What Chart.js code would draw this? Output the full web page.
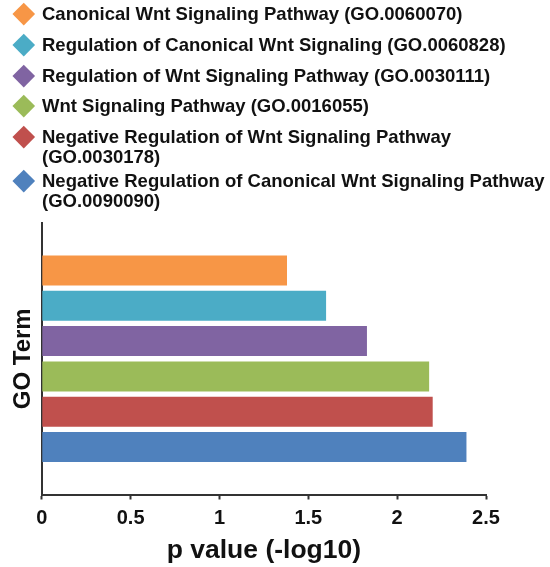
<!DOCTYPE html>
<html>
<head>
<meta charset="utf-8">
<script src="https://cdn.jsdelivr.net/npm/chart.js@4.4.1/dist/chart.umd.min.js"></script>
<style>
  body { margin: 0; background: #fff; }
  #wrap { position: relative; width: 550px; height: 567px; }
  #legenda {
    position: absolute; left: 0; top: 0; width: 550px;
    font-family: "Liberation Sans", Arial, sans-serif;
    font-weight: bold; font-size: 18.5px; line-height: 20px; color: #111;
  }
  .item { position: relative; padding-left: 42px; }
  .item .dia {
    position: absolute; left: 16px; top: 2px;
    width: 15.5px; height: 15.5px; transform: rotate(45deg);
  }
  .item:nth-child(1) { margin-top: 4px; }
  .item:nth-child(2) { margin-top: 11px; }
  .item:nth-child(3) { margin-top: 11px; }
  .item:nth-child(4) { margin-top: 10px; }
  .item:nth-child(5) { margin-top: 11px; }
  .item:nth-child(6) { margin-top: 4px; }
</style>
</head>
<body>
<div id="wrap">
  <canvas id="graficoGO" width="550" height="567"></canvas>
  <div id="legenda"></div>
</div>
<script>
// termos GO (de cima para baixo)
const termos = [
  "Canonical Wnt Signaling Pathway",
  "Regulation of Canonical Wnt Signaling",
  "Regulation of Wnt Signaling Pathway",
  "Wnt Signaling Pathway",
  "Negative Regulation of Wnt Signaling Pathway",
  "Negative Regulation of Canonical Wnt Signaling Pathway"
];
const goIds = ["GO.0060070", "GO.0060828", "GO.0030111", "GO.0016055", "GO.0030178", "GO.0090090"];

// p value (-log10)
const pValores = [1.38, 1.60, 1.83, 2.18, 2.20, 2.39];

const xTicks = [0, 0.5, 1, 1.5, 2, 2.5];
const xTickLabels = ["0", "0.5", "1", "1.5", "2", "2.5"];

const cores = ["#F79646", "#4BACC6", "#8064A2", "#9BBB59", "#C0504D", "#4F81BD"];

const fonte = "'Liberation Sans', Arial, sans-serif";
const corEixo = "#333";

// legenda em HTML (os textos longos quebram linha como no original)
const legenda = document.getElementById("legenda");
termos.forEach(function (t, i) {
  const div = document.createElement("div");
  div.className = "item";
  const d = document.createElement("span");
  d.className = "dia";
  d.style.background = cores[i];
  div.appendChild(d);
  div.appendChild(document.createTextNode(t + " (" + goIds[i] + ")"));
  legenda.appendChild(div);
});

const ctx = document.getElementById("graficoGO");

new Chart(ctx, {
  type: "bar",
  data: {
    labels: ["GO Term"],
    datasets: termos.map(function (t, i) {
      return {
        label: t + " (" + goIds[i] + ")",
        data: [pValores[i]],
        backgroundColor: cores[i],
        borderWidth: 0,
        categoryPercentage: 0.78,
        barPercentage: 0.85
      };
    })
  },
  options: {
    indexAxis: "y",
    responsive: false,
    animation: false,
    layout: { padding: { top: 223, left: 5, right: 64, bottom: 0 } },
    plugins: {
      legend: { display: false },
      tooltip: { enabled: false }
    },
    scales: {
      x: {
        min: 0,
        max: 2.5,
        afterBuildTicks: function (scale) {
          scale.ticks = xTicks.map(function (v) { return { value: v }; });
        },
        ticks: {
          color: "#111",
          padding: 7,
          font: { family: fonte, size: 20, weight: "bold" },
          callback: function (v) {
            const i = xTicks.indexOf(v);
            return i >= 0 ? xTickLabels[i] : "";
          }
        },
        grid: {
          drawOnChartArea: false,
          drawTicks: true,
          tickLength: 5,
          tickWidth: 2,
          tickColor: corEixo
        },
        border: { display: true, color: corEixo, width: 2 },
        title: {
          display: true,
          text: "p value (-log10)",
          color: "#111",
          padding: { top: 0, bottom: 3 },
          font: { family: fonte, size: 26.5, weight: "bold", lineHeight: 1 }
        }
      },
      y: {
        ticks: { display: false },
        grid: { drawOnChartArea: false, drawTicks: false },
        border: { display: true, color: corEixo, width: 2 },
        title: {
          display: true,
          text: "GO Term",
          color: "#111",
          padding: { top: 4, bottom: 4 },
          font: { family: fonte, size: 24, weight: "bold" }
        }
      }
    }
  }
});
</script>
</body>
</html>
